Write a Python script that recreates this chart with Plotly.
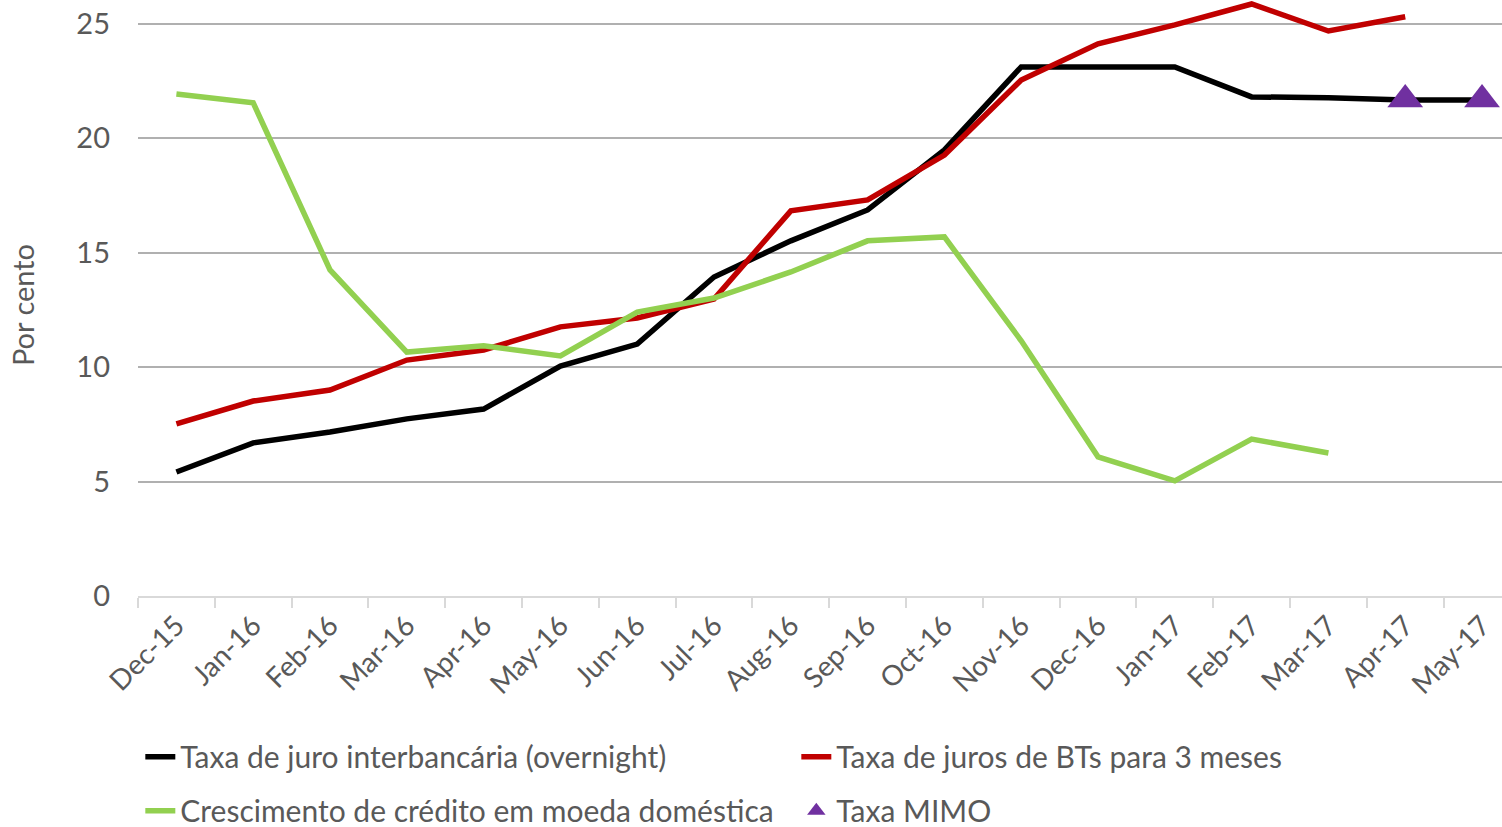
import plotly.graph_objects as go

months = ["Dec-15", "Jan-16", "Feb-16", "Mar-16", "Apr-16", "May-16", "Jun-16", "Jul-16",
          "Aug-16", "Sep-16", "Oct-16", "Nov-16", "Dec-16", "Jan-17", "Feb-17", "Mar-17",
          "Apr-17", "May-17"]

overnight = [5.42, 6.69, 7.17, 7.74, 8.17, 10.05, 11.01, 13.94, 15.52, 16.87, 19.49, 23.12,
             23.12, 23.12, 21.81, 21.77, 21.67, 21.67]
bt_3m = [7.52, 8.52, 9.0, 10.31, 10.75, 11.76, 12.15, 12.98, 16.83, 17.31, 19.27, 22.55,
         24.13, 24.96, 25.87, 24.69, 25.31, None]
credit = [21.94, 21.55, 14.25, 10.66, 10.93, 10.49, 12.41, 13.02, 14.16, 15.52, 15.69, 11.15,
          6.08, 5.03, 6.86, 6.25, None, None]
mimo = [None] * 16 + [21.7, 21.7]

y_ticks = [0, 5, 10, 15, 20, 25]

FONT = "Lato"
GREY = "#595959"

fig = go.Figure()
fig.add_trace(go.Scatter(x=months, y=overnight, mode="lines", name="Taxa de juro interbancária (overnight)",
                         line=dict(color="#000000", width=5.5), legend="legend"))
fig.add_trace(go.Scatter(x=months, y=bt_3m, mode="lines", name="Taxa de juros de BTs para 3 meses",
                         line=dict(color="#C00000", width=5.5), legend="legend"))
fig.add_trace(go.Scatter(x=months, y=credit, mode="lines", name="Crescimento de crédito em moeda doméstica",
                         line=dict(color="#92D050", width=5.5), legend="legend2"))
fig.add_trace(go.Scatter(x=months, y=mimo, mode="markers", name="Taxa MIMO",
                         marker=dict(symbol="triangle-up", size=31, color="#7030A0"), legend="legend2"))

fig.update_layout(
    width=1502, height=827,
    margin=dict(l=138, r=0, t=1, b=231, autoexpand=False),
    paper_bgcolor="white", plot_bgcolor="white",
    font=dict(family=FONT, size=29, color=GREY),
    showlegend=True,
    legend=dict(orientation="h", x=0.0017, y=-0.2265, xanchor="left", yanchor="top",
                entrywidth=611, entrywidthmode="pixels", font=dict(size=30, color=GREY),
                bgcolor="rgba(0,0,0,0)"),
    legend2=dict(orientation="h", x=0.0017, y=-0.3173, xanchor="left", yanchor="top",
                 entrywidth=611, entrywidthmode="pixels", font=dict(size=30, color=GREY),
                 bgcolor="rgba(0,0,0,0)"),
    xaxis=dict(type="category", range=[-0.5, 17.26], tickson="boundaries", ticks="outside",
               ticklen=10, tickwidth=2, tickcolor="#d9d9d9", showline=True, linecolor="#d9d9d9",
               linewidth=2, showgrid=False, tickangle=-45, automargin=False,
               tickfont=dict(size=28, color=GREY)),
    yaxis=dict(range=[0, 26], tickvals=y_ticks, showgrid=True, gridcolor="#b0b0b0", gridwidth=2,
               zeroline=False, showline=False, ticks="", ticklabelstandoff=27, automargin=False,
               tickfont=dict(size=29, color=GREY)),
    annotations=[dict(text="Por cento", xref="paper", yref="paper", x=0, xshift=-116, y=0.489,
                      xanchor="center", yanchor="middle",
                      textangle=-90, showarrow=False, font=dict(size=29, color=GREY))],
)

fig.write_html("out.html", config={"displayModeBar": False},
               post_script="document.body.style.margin='0';")
